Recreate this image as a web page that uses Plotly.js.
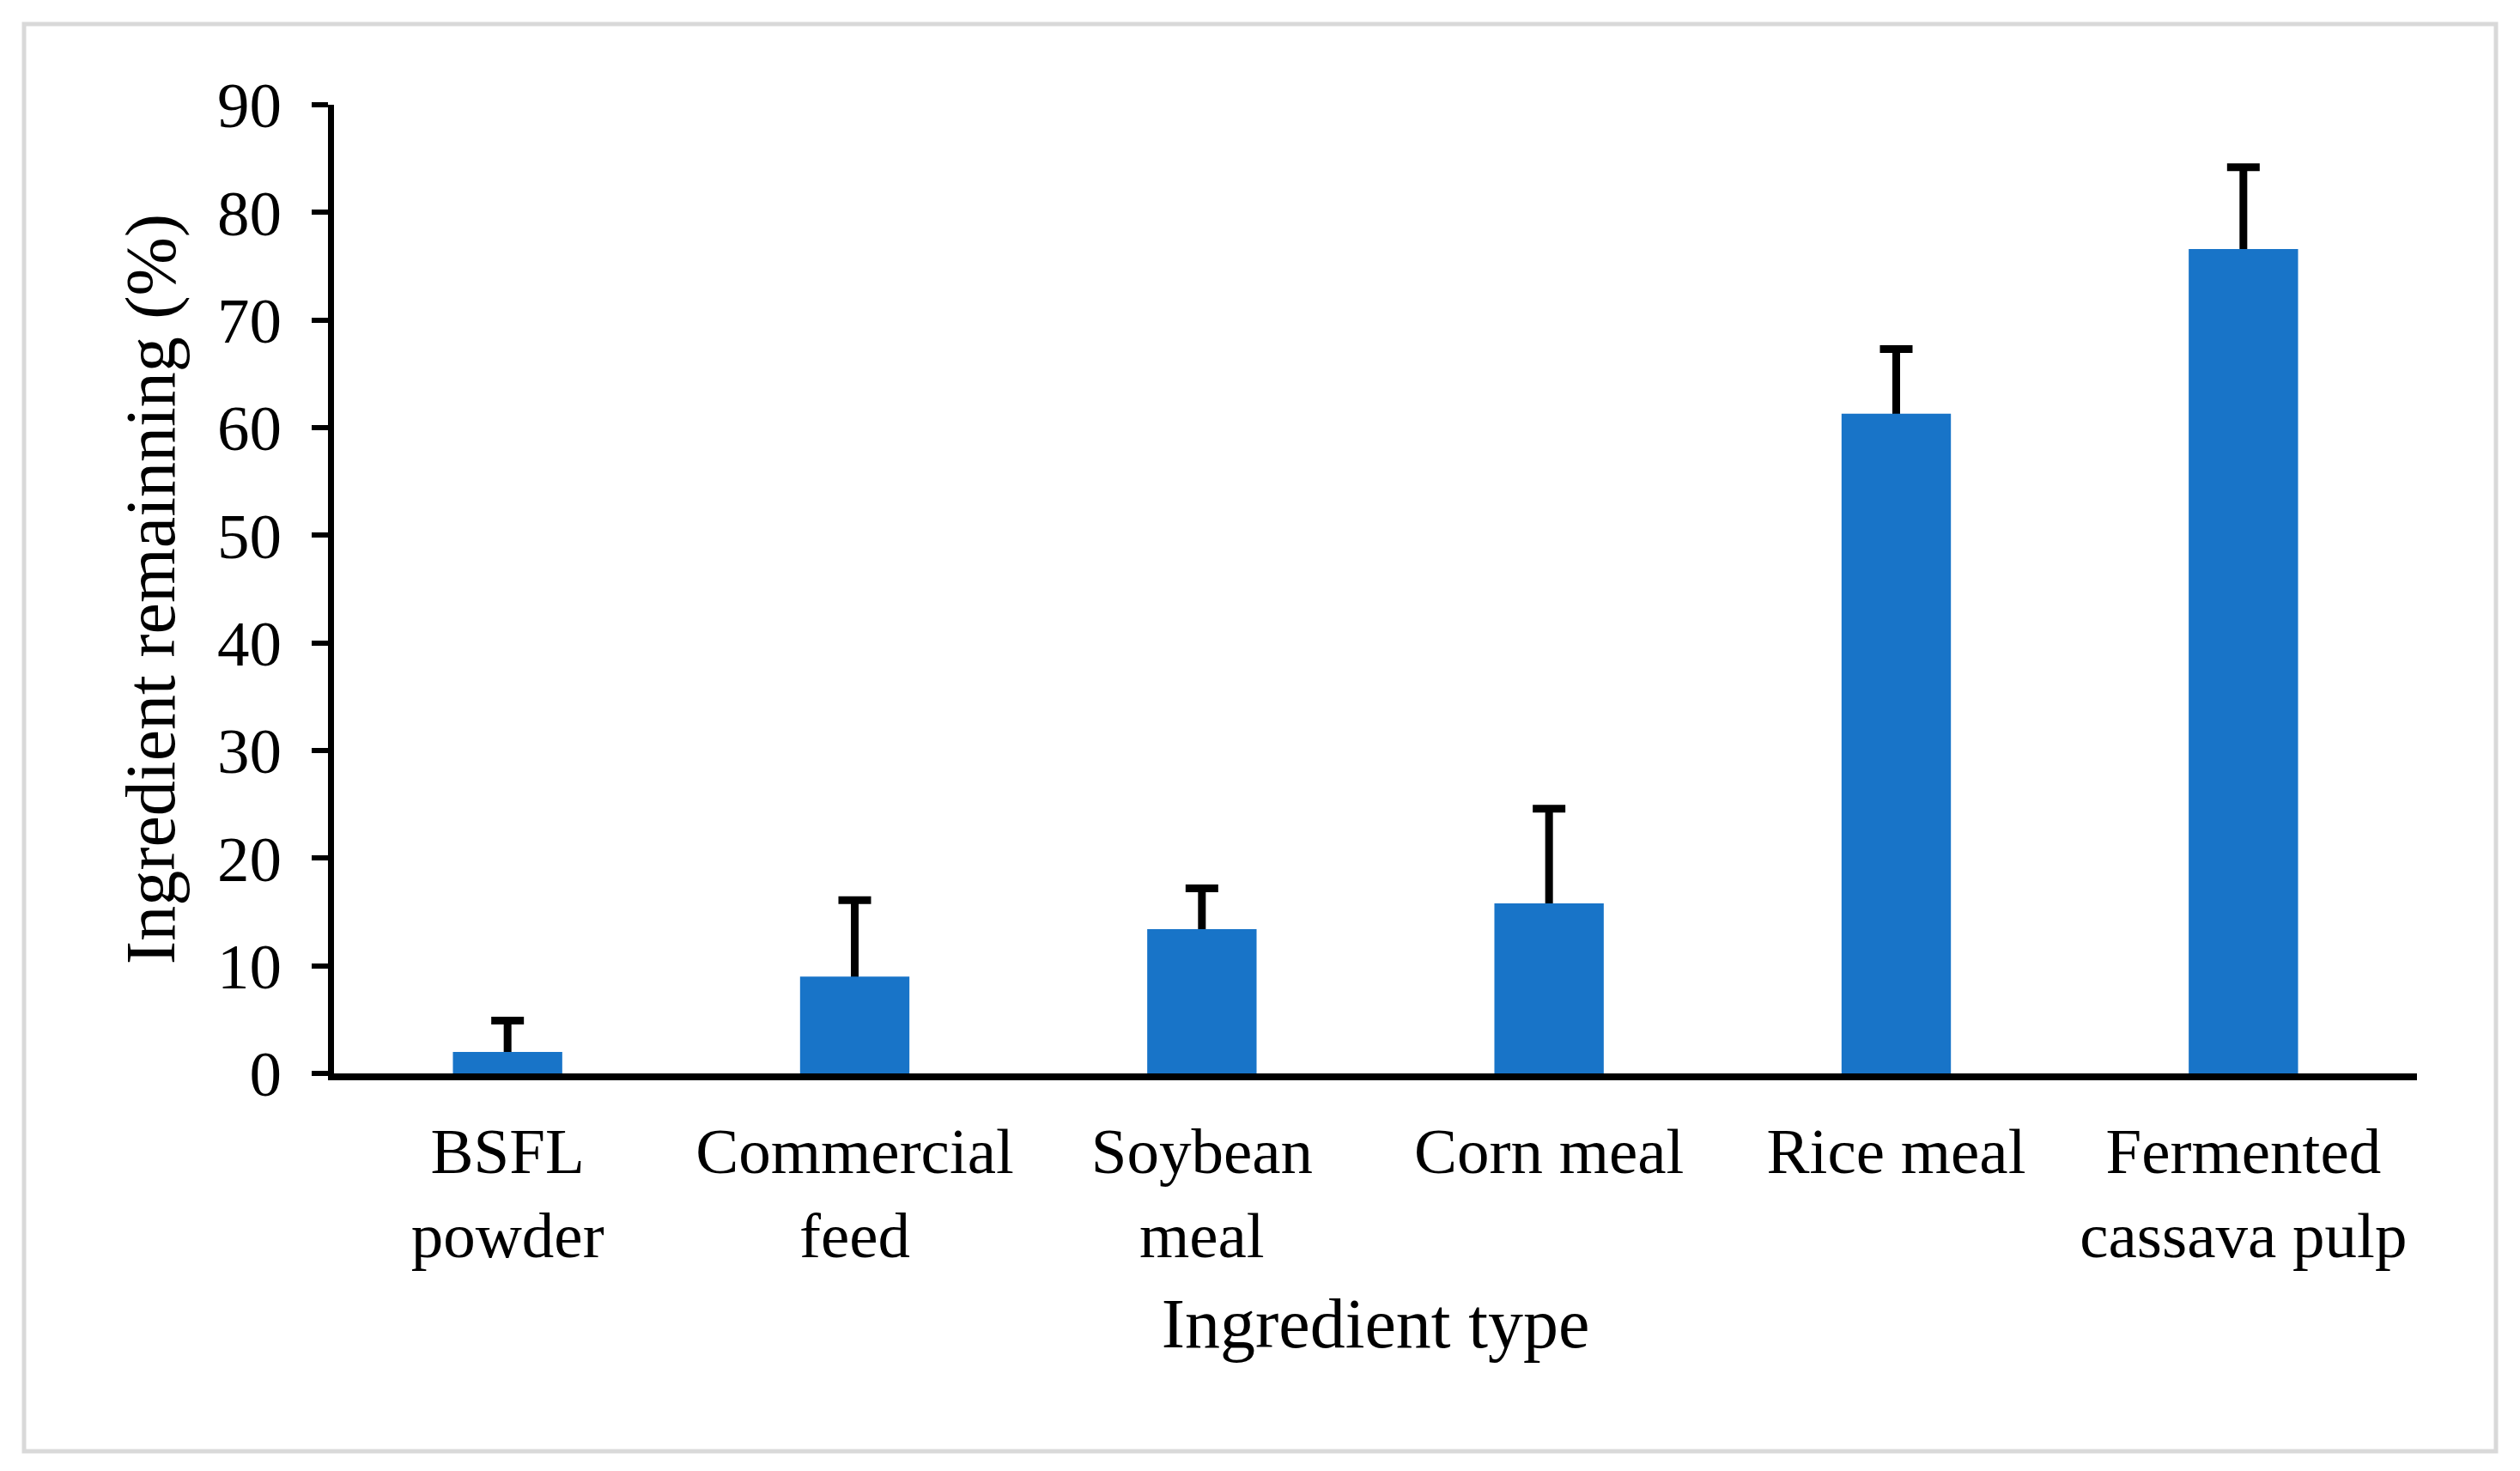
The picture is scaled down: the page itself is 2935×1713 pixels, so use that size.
<!DOCTYPE html>
<html>
<head>
<meta charset="utf-8">
<script src="https://cdn.plot.ly/plotly-3.0.1.min.js"></script>
<style>
  html, body { margin: 0; padding: 0; background: #ffffff; }
  #chart { width: 2935px; height: 1713px; }
</style>
</head>
<body>
<div id="chart"></div>
<script>
// ---- data ----
const categories = [
  "BSFL<br>powder",
  "Commercial<br>feed",
  "Soybean<br>meal",
  "Corn meal",
  "Rice meal",
  "Fermented<br>cassava pulp"
];
const remaining = [2.0, 9.0, 13.4, 15.8, 61.3, 76.6];
const errorPlus = [2.9, 7.1, 3.8, 8.8, 6.0, 7.6];
const yTickValues = [0, 10, 20, 30, 40, 50, 60, 70, 80, 90];
const xTitle = "Ingredient type";
const yTitle = "Ingredient remainning (%)";

// ---- layout constants ----
const W = 2935, H = 1713;
const M = { l: 389, r: 120, t: 122, b: 463 };
const plotW = W - M.l - M.r, plotH = H - M.t - M.b;
const font = "'Liberation Serif', 'Times New Roman', serif";
const barColor = "#1874C8";
const barWidth = 0.315;

// error-bar trace underneath (its lower half is hidden by the bars drawn above)
const errTrace = {
  type: "bar",
  x: categories,
  y: remaining,
  width: barWidth,
  marker: { color: "rgba(0,0,0,0)" },
  error_y: {
    type: "data",
    array: errorPlus,
    symmetric: true,
    color: "#000000",
    thickness: 9,
    width: 19
  },
  hoverinfo: "skip",
  showlegend: false
};
const barTrace = {
  type: "bar",
  x: categories,
  y: remaining,
  width: barWidth,
  marker: { color: barColor, line: { width: 0 } },
  showlegend: false
};

// light grey frame around the figure (pixel -> paper fractions)
const px2x = p => (p - M.l) / plotW;
const py2y = p => (H - M.b - p) / plotH;
const frame = {
  type: "rect", xref: "paper", yref: "paper",
  x0: px2x(28), x1: px2x(2907), y0: py2y(1690), y1: py2y(28),
  line: { color: "#d9d9d9", width: 5 },
  fillcolor: "rgba(0,0,0,0)",
  layer: "below"
};

const layout = {
  width: W, height: H,
  margin: M,
  paper_bgcolor: "#ffffff",
  plot_bgcolor: "#ffffff",
  barmode: "overlay",
  showlegend: false,
  font: { family: font, color: "#000000", size: 75 },
  shapes: [frame],
  xaxis: {
    type: "category",
    range: [-0.5, 5.5],
    showline: true, linecolor: "#000000", linewidth: 8,
    ticks: "", showgrid: false, zeroline: false,
    tickfont: { family: font, size: 75, color: "#000000" },
    ticklabelstandoff: 18,
    automargin: false,
    title: { text: xTitle, font: { family: font, size: 82, color: "#000000" }, standoff: 36 }
  },
  yaxis: {
    range: [0, 90],
    tickmode: "array", tickvals: yTickValues,
    showline: true, linecolor: "#000000", linewidth: 7,
    ticks: "outside", ticklen: 19, tickwidth: 6, tickcolor: "#000000",
    showgrid: false, zeroline: false,
    tickfont: { family: font, size: 75, color: "#000000" },
    ticklabelstandoff: 20,
    automargin: false,
    title: { text: yTitle, font: { family: font, size: 82, color: "#000000" }, standoff: 25 }
  }
};

Plotly.newPlot("chart", [errTrace, barTrace], layout, { displayModeBar: false, staticPlot: true });
</script>
</body>
</html>
